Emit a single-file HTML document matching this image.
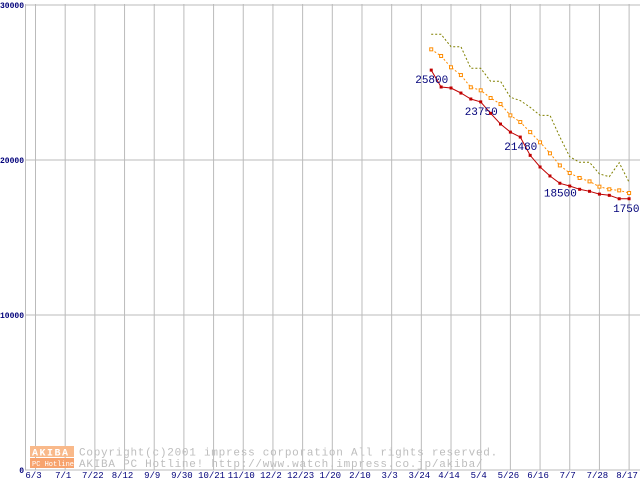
<!DOCTYPE html>
<html><head><meta charset="utf-8"><style>
body{margin:0;background:#fff;}
svg{display:block;font-family:"Liberation Mono","DejaVu Sans Mono",monospace;}
</style></head><body>
<svg id="c" width="640" height="480">
<g id="grid"></g>
<g>
<rect x="30" y="446" width="44" height="11" fill="#f9b98a"/>
<rect x="30" y="458" width="44" height="10" fill="#f7a36e"/>
<text x="32" y="455.5" font-size="10" fill="#fff" font-weight="bold" letter-spacing="1.5">AKIBA</text>
<text x="32" y="466" font-size="7" fill="#fff">PC Hotline!</text>
<text x="79" y="455.5" font-size="11" fill="#bdbdbd" letter-spacing="0.75">Copyright(c)2001 impress corporation All rights reserved.</text>
<text x="79" y="467" font-size="11" fill="#bdbdbd" letter-spacing="0.75">AKIBA PC Hotline!  http://www.watch.impress.co.jp/akiba/</text>
</g>
<g id="series"></g>
</svg>
<script>
const xLabels=["6/3","7/1","7/22","8/12","9/9","9/30","10/21","11/10","12/2","12/23","1/20","2/10","3/3","3/24","4/14","5/4","5/26","6/16","7/7","7/28","8/17"];
const yTicks=[0,10000,20000,30000];
const weeks=[1,2,3,4,5,6,7,8,9,10,11,12,13,14,15,16,17,18,19,20,21];
const redVals=[25800,24710,24645,24320,23935,23750,23010,22320,21800,21480,20300,19550,18970,18500,18320,18110,17980,17800,17720,17500,17500];
const orangeVals=[27140,26710,25980,25480,24690,24495,24000,23610,22880,22450,21800,21140,20430,19650,19160,18840,18620,18280,18110,18040,17870];
const oliveVals=[28110,28110,27310,27310,25915,25915,25075,25075,24045,23830,23400,22880,22880,21500,20215,19850,19850,19100,18925,19825,18560];
const labeled={0:"25800",5:"23750",9:"21480",13:"18500",20:"17500"};
const NS="http://www.w3.org/2000/svg";
const X0=35.5,XS=29.68;
function xCat(i){return X0+i*XS;}
function xWeek(w){return xCat(13)+w*XS/3;}
function y(v){return 470-v*0.0155;}
function mk(t,a,p){const e=document.createElementNS(NS,t);for(const k in a)e.setAttribute(k,a[k]);p.appendChild(e);return e;}
const g=document.getElementById('grid'),s=document.getElementById('series');
yTicks.forEach((v,i)=>{
 const l=mk('line',{x1:25,x2:640,y1:y(v),y2:y(v),stroke:'#bbb','stroke-width':1},g);
 
 
 const t=mk('text',{x:24,y:y(v)+3,'font-size':8,fill:'#00007a','text-anchor':'end','font-weight':'bold'},g);
 t.textContent=v;
 
 
});
const ax=mk('line',{x1:25.5,x2:25.5,y1:4,y2:470,stroke:'#bbb'},g);


xLabels.forEach((lab,i)=>{
 const l=mk('line',{x1:xCat(i),x2:xCat(i),y1:4,y2:470,stroke:'#bbb'},g);
 
 
 const t=mk('text',{x:xCat(i)-2,y:478,'font-size':9,fill:'#00007a','text-anchor':'middle'},g);
 t.textContent=lab;
 
 
});
function pts(vals){return vals.map((v,i)=>xWeek(weeks[i]).toFixed(1)+','+y(v).toFixed(1)).join(' ');}
const ol=mk('polyline',{points:pts(oliveVals),fill:'none',stroke:'#808000','stroke-width':1,'stroke-dasharray':'2,2'},s);


const orl=mk('polyline',{points:pts(orangeVals),fill:'none',stroke:'#ff8c00','stroke-width':1,'stroke-dasharray':'2,2'},s);


orangeVals.forEach((v,i)=>{
 const r=mk('rect',{x:xWeek(weeks[i])-1.5,y:y(v)-1.5,width:3,height:3,fill:'#fff',stroke:'#ff8c00'},s);
 
 
});
const rl=mk('polyline',{points:pts(redVals),fill:'none',stroke:'#c00000','stroke-width':1},s);


redVals.forEach((v,i)=>{
 const r=mk('rect',{x:xWeek(weeks[i])-1.5,y:y(v)-1.5,width:3,height:3,fill:'#c00000'},s);
 
 
 if(labeled[i]){
  const t=mk('text',{x:xWeek(weeks[i])-16,y:y(v)+13,'font-size':11,fill:'#00007a'},s);
  t.textContent=labeled[i];
  
  
 }
});
</script>
</body></html>
